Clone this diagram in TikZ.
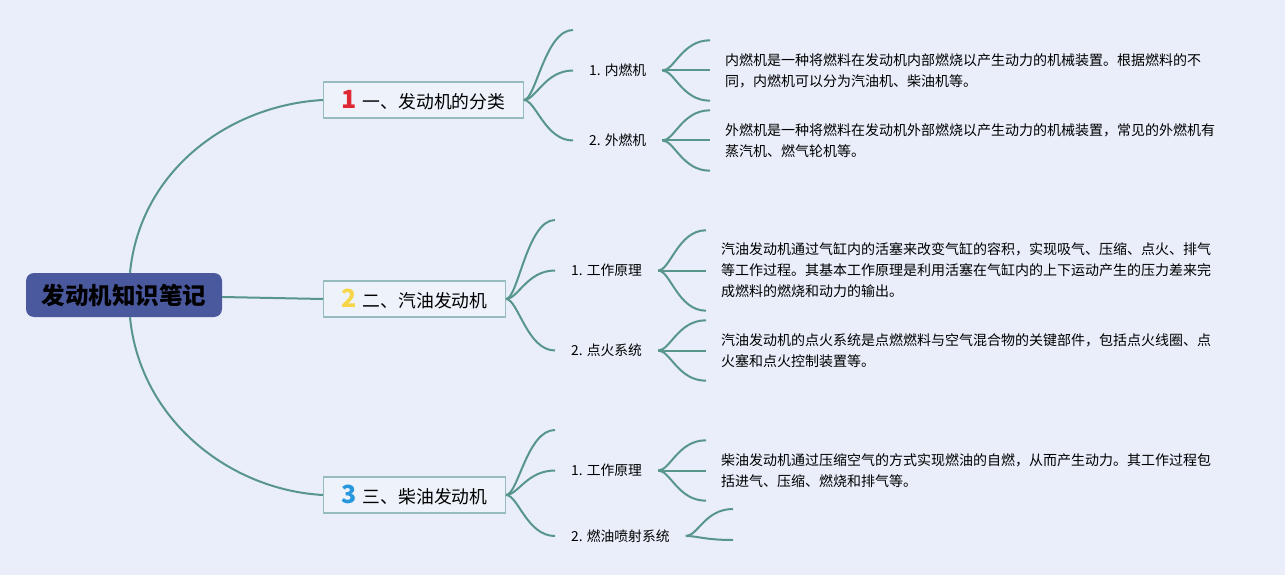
\documentclass[tikz,border=0pt]{standalone}
\usepackage{fontspec}
\setmainfont{Noto Sans CJK SC}
\usetikzlibrary{calc}
\definecolor{bgPaper}{RGB}{233, 238, 250}
\definecolor{lineTeal}{RGB}{88, 150, 140}
\definecolor{rootBlue}{RGB}{74, 88, 158}
\definecolor{boxEdge}{RGB}{150, 188, 192}
\definecolor{boxFill}{RGB}{238, 243, 251}
\definecolor{numRed}{RGB}{222, 40, 52}
\definecolor{numYellow}{RGB}{246, 214, 72}
\definecolor{numBlue}{RGB}{40, 152, 222}
\newcommand{\numicon}[2]{{\color{#1}\fontsize{25pt}{25pt}\selectfont\bfseries #2}\hspace{6pt}}

\begin{document}
\begin{tikzpicture}[
      x=1pt, y=-1pt,
      rootbox/.style={fill=rootBlue, rounded corners=8pt, minimum width=196pt, minimum height=44pt, inner sep=0pt, font=\fontsize{23.5pt}{23.5pt}\selectfont\bfseries},
      topic/.style={draw=boxEdge, fill=boxFill, line width=1.2pt, anchor=west, inner xsep=18pt, inner ysep=0pt, minimum height=36pt, font=\fontsize{17.8pt}{20pt}\selectfont},
      sub/.style={anchor=west, inner xsep=16pt, inner ysep=3pt, font=\fontsize{13.8pt}{16pt}\selectfont},
      note/.style={anchor=west, inner xsep=15pt, inner ysep=0pt, align=left, font=\fontsize{14pt}{21pt}\selectfont},
      fan/.style={draw=lineTeal, line width=2pt}
  ]
      \fill[bgPaper] (0,0) rectangle (1285,575);
      \useasboundingbox (0,0) rectangle (1285,575);

      % ROOT
      \node[rootbox] (root) at (124,295) {发动机知识笔记};
      \node[topic] (b1) at (323,100) {\numicon{numRed}{1}一、发动机的分类};
      \node[topic] (b2) at (323,299) {\numicon{numYellow}{2}二、汽油发动机};
      \node[topic] (b3) at (323,495) {\numicon{numBlue}{3}三、柴油发动机};

      \draw[fan] ($(root.north)+(6,0)$) .. controls +(10,-103) and +(-93,5) .. (b1.west);
      \draw[fan] ($(root.east)+(0,2)$) -- (b2.west);
      \draw[fan] ($(root.south)+(6,0)$) .. controls +(10,103) and +(-93,-5) .. (b3.west);

      % BRANCH 1
      \coordinate (e1) at (573,30);
      \node[sub] (s11) at (573,70.5) {1. 内燃机};
      \node[sub] (s12) at (573,140.5) {2. 外燃机};
      \node[note, minimum height=60pt] (t11) at (710,70.5) {内燃机是一种将燃料在发动机内部燃烧以产生动力的机械装置。根据燃料的不\\同，内燃机可以分为汽油机、柴油机等。};
      \node[note, minimum height=60pt] (t12) at (710,140.5) {外燃机是一种将燃料在发动机外部燃烧以产生动力的机械装置，常见的外燃机有\\蒸汽机、燃气轮机等。};

      \foreach \tgt in {e1, s11.west, s12.west}
        \draw[fan] (b1.east) .. controls +(12,0) and +(-28,0) .. (\tgt);
      \foreach \tgt in {t11.north west, t11.west, t11.south west}
        \draw[fan] (s11.east) .. controls +(12,0) and +(-28,0) .. (\tgt);
      \foreach \tgt in {t12.north west, t12.west, t12.south west}
        \draw[fan] (s12.east) .. controls +(12,0) and +(-28,0) .. (\tgt);

      % BRANCH 2
      \coordinate (e2) at (555,220);
      \node[sub] (s21) at (555,270.5) {1. 工作原理};
      \node[sub] (s22) at (555,350.5) {2. 点火系统};
      \node[note, minimum height=80pt] (t21) at (706,270.5) {汽油发动机通过气缸内的活塞来改变气缸的容积，实现吸气、压缩、点火、排气\\等工作过程。其基本工作原理是利用活塞在气缸内的上下运动产生的压力差来完\\成燃料的燃烧和动力的输出。};
      \node[note, minimum height=60pt] (t22) at (706,350.5) {汽油发动机的点火系统是点燃燃料与空气混合物的关键部件，包括点火线圈、点\\火塞和点火控制装置等。};

      \foreach \tgt in {e2, s21.west, s22.west}
        \draw[fan] (b2.east) .. controls +(12,0) and +(-28,0) .. (\tgt);
      \foreach \tgt in {t21.north west, t21.west, t21.south west}
        \draw[fan] (s21.east) .. controls +(12,0) and +(-28,0) .. (\tgt);
      \foreach \tgt in {t22.north west, t22.west, t22.south west}
        \draw[fan] (s22.east) .. controls +(12,0) and +(-28,0) .. (\tgt);

      % BRANCH 3
      \coordinate (e3) at (555,430);
      \node[sub] (s31) at (555,470.5) {1. 工作原理};
      \node[sub] (s32) at (555,536) {2. 燃油喷射系统};
      \node[note, minimum height=60pt] (t31) at (706,470.5) {柴油发动机通过压缩空气的方式实现燃油的自燃，从而产生动力。其工作过程包\\括进气、压缩、燃烧和排气等。};
      \coordinate (f1) at (733,509);
      \coordinate (f2) at (733,540);

      \foreach \tgt in {e3, s31.west, s32.west}
        \draw[fan] (b3.east) .. controls +(12,0) and +(-28,0) .. (\tgt);
      \foreach \tgt in {t31.north west, t31.west, t31.south west}
        \draw[fan] (s31.east) .. controls +(12,0) and +(-28,0) .. (\tgt);
      \foreach \tgt in {f1, f2}
        \draw[fan] (s32.east) .. controls +(12,0) and +(-28,0) .. (\tgt);
  \end{tikzpicture}
\end{document}
